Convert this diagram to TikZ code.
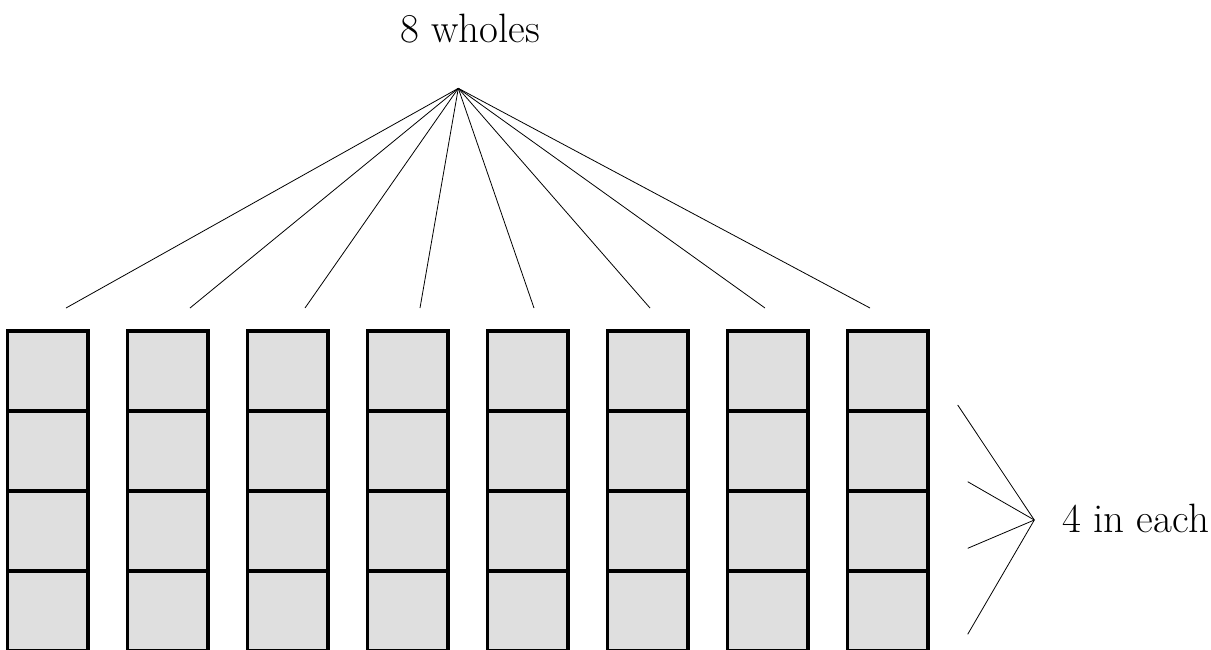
\documentclass[tikz,border=0pt]{standalone}
\definecolor{cellgray}{HTML}{DFDFDF}
\tikzset{
  cell/.style={draw=black, fill=cellgray, line width=3.2pt, minimum width=80.5pt, minimum height=80pt, inner sep=0pt, outer sep=0pt},
  fan/.style={draw=black, line width=0.8pt},
  lbl/.style={font=\fontsize{41}{48}\selectfont, inner sep=0pt, anchor=base west}
}
\begin{document}
\begin{tikzpicture}[x=1pt,y=-1pt]
\useasboundingbox (0,0) rectangle (1211,649);
\foreach \i in {0,...,7} {
  \foreach \j in {0,...,3} {
    \node[cell] (c-\i-\j) at ({47.75+120*\i},{371+80*\j}) {};
  }
}
\node[lbl] (top) at (400,42) {8 wholes};
\node[lbl] (side) at (1062,532) {4 in each};
\coordinate (T) at (458.3,88.3);
\coordinate (R) at (1034.3,520);
\foreach \x [count=\k] in {66,190,305,420,534,650,765,870} {
  \coordinate (e\k) at (\x,308);
  \draw[fan] (T) -- (e\k);
}
\coordinate (r1) at (957.7,405);
\coordinate (r2) at (967.7,481.7);
\coordinate (r3) at (967.7,548.3);
\coordinate (r4) at (967.7,634.3);
\foreach \k in {1,...,4} { \draw[fan] (R) -- (r\k); }
\end{tikzpicture}
\end{document}
